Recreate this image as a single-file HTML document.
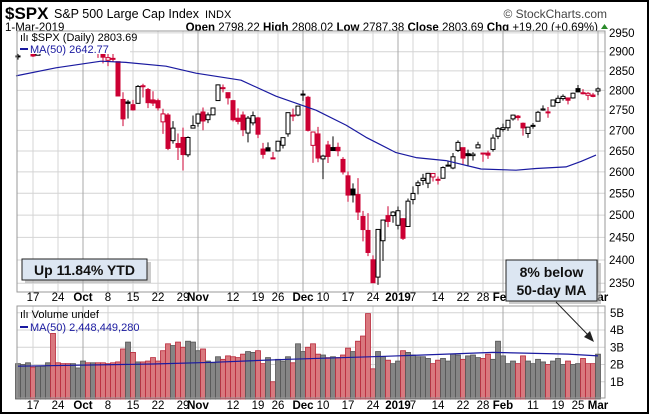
<!DOCTYPE html>
<html><head><meta charset="utf-8"><style>
html,body{margin:0;padding:0;background:#fff}
svg{display:block;font-family:"Liberation Sans",sans-serif}
</style></head><body>
<svg id="chart" width="650" height="415" viewBox="0 0 650 415" xmlns="http://www.w3.org/2000/svg">
<rect x="1" y="1" width="647" height="412" fill="#fff" stroke="#000" stroke-width="2"/>
<g>
<text x="5" y="19" font-size="17" font-weight="bold">$SPX</text>
<text x="54" y="18" font-size="12.5">S&amp;P 500 Large Cap Index</text>
<text x="205" y="18" font-size="11">INDX</text>
<text x="607" y="18" font-size="12" text-anchor="end" fill="#444">© StockCharts.com</text>
<text x="5" y="31" font-size="11.5">1-Mar-2019</text>
<text x="598" y="31" font-size="11.5" text-anchor="end"><tspan font-weight="bold">Open</tspan> 2798.22 <tspan font-weight="bold">High</tspan> 2808.02 <tspan font-weight="bold">Low</tspan> 2787.38 <tspan font-weight="bold">Close</tspan> 2803.69 <tspan font-weight="bold">Chg</tspan> +19.20 (+0.69%)</text>
<polygon points="601,29 608,29 604.5,24" fill="#2a8a2a"/>
</g>
<g id="priceGrid"></g>
<g id="priceMarks"></g>
<g id="volGrid"></g>
<g id="volMarks"></g>
<g id="labels"></g>
</svg>
<script>
// ---- data ----
const dates=["Sep12","Sep13","Sep14","Sep17","Sep18","Sep19","Sep20","Sep21","Sep24","Sep25","Sep26","Sep27","Sep28","Oct1","Oct2","Oct3","Oct4","Oct5","Oct8","Oct9","Oct10","Oct11","Oct12","Oct15","Oct16","Oct17","Oct18","Oct19","Oct22","Oct23","Oct24","Oct25","Oct26","Oct29","Oct30","Oct31","Nov1","Nov2","Nov5","Nov6","Nov7","Nov8","Nov9","Nov12","Nov13","Nov14","Nov15","Nov16","Nov19","Nov20","Nov21","Nov23","Nov26","Nov27","Nov28","Nov29","Nov30","Dec3","Dec4","Dec6","Dec7","Dec10","Dec11","Dec12","Dec13","Dec14","Dec17","Dec18","Dec19","Dec20","Dec21","Dec24","Dec26","Dec27","Dec28","Dec31","Jan2","Jan3","Jan4","Jan7","Jan8","Jan9","Jan10","Jan11","Jan14","Jan15","Jan16","Jan17","Jan18","Jan22","Jan23","Jan24","Jan25","Jan28","Jan29","Jan30","Jan31","Feb1","Feb4","Feb5","Feb6","Feb7","Feb8","Feb11","Feb12","Feb13","Feb14","Feb15","Feb19","Feb20","Feb21","Feb22","Feb25","Feb26","Feb27","Feb28","Mar1"];
const opens=[2888.3,2896.9,2906.4,2903.8,2890.7,2906.6,2919.7,2936.8,2921.8,2921.8,2916.9,2911.7,2910.0,2926.3,2923.8,2931.7,2919.4,2902.5,2877.5,2882.5,2873.9,2776.9,2770.5,2763.8,2767.1,2811.7,2802.0,2775.7,2773.9,2721.0,2737.9,2674.9,2667.9,2682.7,2640.7,2705.6,2717.6,2745.5,2726.4,2738.4,2774.1,2806.4,2794.1,2773.9,2730.1,2737.9,2693.5,2718.5,2730.7,2654.6,2657.7,2633.4,2650.0,2663.8,2691.5,2737.0,2737.8,2790.5,2782.4,2663.5,2691.3,2630.9,2664.4,2658.2,2658.7,2629.7,2590.8,2559.9,2547.1,2496.8,2465.4,2400.6,2363.1,2442.5,2498.8,2498.9,2477.0,2491.9,2474.3,2535.6,2568.1,2580.0,2573.5,2588.1,2580.3,2585.1,2614.8,2609.3,2651.3,2657.9,2643.5,2638.8,2657.4,2645.0,2644.9,2653.6,2685.5,2702.3,2706.5,2728.3,2735.1,2717.5,2692.4,2712.4,2722.6,2750.3,2743.5,2760.2,2769.3,2779.1,2780.7,2780.7,2804.4,2792.4,2787.5,2788.1,2798.2];
const highs=[2894.6,2906.8,2908.3,2904.7,2911.2,2912.4,2934.8,2940.9,2923.8,2923.9,2931.2,2927.2,2920.5,2937.1,2931.4,2939.9,2919.8,2909.6,2894.0,2894.8,2874.0,2795.1,2775.8,2775.9,2813.5,2816.9,2806.0,2797.8,2778.9,2753.6,2742.6,2722.7,2692.4,2706.9,2685.4,2736.7,2741.7,2756.6,2744.3,2756.8,2815.2,2814.8,2794.1,2775.9,2754.6,2746.8,2735.4,2746.8,2733.2,2669.4,2670.7,2647.6,2674.3,2682.5,2744.0,2753.8,2760.9,2800.2,2785.9,2696.2,2708.5,2641.0,2674.4,2685.4,2670.2,2635.1,2601.1,2573.0,2585.3,2509.6,2504.4,2410.3,2467.8,2489.1,2520.3,2509.2,2519.5,2493.1,2538.1,2566.2,2579.8,2595.3,2597.8,2596.3,2589.3,2613.1,2625.8,2645.1,2675.5,2657.9,2653.2,2647.2,2672.4,2645.0,2650.9,2690.4,2708.0,2716.7,2725.0,2739.0,2738.1,2719.3,2708.1,2718.1,2748.2,2761.9,2757.9,2775.7,2787.3,2789.9,2781.6,2794.2,2813.5,2803.1,2795.8,2793.7,2808.0];
const lows=[2879.2,2895.0,2895.8,2886.2,2890.4,2903.8,2919.7,2927.1,2912.6,2913.7,2903.3,2909.3,2907.5,2917.9,2919.4,2921.4,2883.9,2869.3,2862.1,2874.3,2784.9,2710.5,2729.4,2749.0,2766.9,2781.8,2755.2,2760.3,2749.2,2691.4,2651.9,2667.8,2628.2,2603.5,2635.3,2705.6,2708.9,2700.4,2717.9,2737.1,2774.1,2794.9,2764.2,2722.0,2714.9,2685.8,2670.8,2712.2,2681.1,2631.5,2649.8,2631.1,2650.0,2655.9,2684.4,2722.9,2735.0,2773.4,2697.2,2621.5,2623.1,2583.2,2621.3,2650.3,2637.3,2593.8,2530.5,2528.7,2489.0,2441.2,2408.6,2351.1,2346.6,2397.9,2472.9,2482.8,2467.5,2444.0,2474.3,2524.6,2547.6,2568.9,2562.0,2577.4,2570.4,2585.1,2612.7,2606.4,2647.6,2617.3,2612.9,2627.0,2657.3,2624.1,2631.1,2648.3,2678.7,2696.9,2698.8,2724.0,2724.2,2687.3,2681.8,2703.9,2722.6,2748.6,2731.2,2760.2,2767.3,2774.1,2764.6,2779.1,2795.0,2789.5,2775.1,2782.5,2787.4];
const closes=[2888.9,2904.2,2905.0,2888.8,2904.3,2908.0,2930.8,2929.7,2919.4,2915.6,2906.0,2914.0,2914.0,2924.6,2923.4,2925.5,2901.6,2885.6,2884.4,2880.3,2785.7,2728.4,2767.1,2750.8,2809.9,2809.2,2768.8,2767.8,2755.9,2740.7,2656.1,2705.6,2658.7,2641.3,2682.6,2711.7,2740.4,2723.1,2738.3,2755.5,2813.9,2806.8,2781.0,2726.2,2722.2,2701.6,2730.2,2736.3,2690.7,2641.9,2649.9,2632.6,2673.5,2682.2,2743.8,2737.8,2760.2,2790.4,2700.1,2696.0,2633.1,2637.7,2636.8,2651.1,2650.5,2600.0,2545.9,2546.2,2507.0,2467.4,2416.6,2351.1,2467.7,2488.8,2485.7,2506.9,2510.0,2447.9,2531.9,2549.7,2574.4,2585.0,2596.6,2596.3,2582.6,2610.3,2616.1,2636.0,2670.7,2632.9,2638.7,2642.3,2664.8,2643.9,2640.0,2681.1,2704.1,2706.5,2724.9,2737.7,2731.6,2706.1,2707.9,2709.8,2744.7,2753.0,2745.7,2775.6,2779.8,2784.7,2774.9,2792.7,2796.1,2793.9,2792.4,2784.5,2803.7];
const volumes=[2.05,2.0,2.1,1.85,1.9,1.9,2.1,3.8,2.1,2.05,2.05,2.05,1.8,2.2,2.1,2.1,2.1,2.1,2.05,2.1,2.15,2.9,3.3,2.7,2.15,2.15,2.2,2.4,2.2,2.8,3.2,3.1,3.3,3.0,3.35,3.3,2.8,2.9,2.2,2.1,2.45,2.3,2.5,2.45,2.4,2.6,2.75,2.7,2.8,2.05,2.4,1.0,2.3,2.2,2.45,2.1,3.2,2.75,3.0,3.2,2.6,2.55,2.4,2.45,2.4,2.55,2.95,2.75,3.35,3.65,4.95,1.75,2.75,2.45,2.25,2.05,2.2,2.8,2.7,2.55,2.45,2.45,2.35,2.05,2.25,2.35,2.2,2.6,2.55,2.3,2.5,2.55,2.4,2.35,2.6,2.3,3.35,2.5,2.05,2.2,2.05,2.5,2.2,2.05,2.3,2.15,2.0,2.2,2.35,2.0,2.2,2.0,2.05,2.35,2.05,2.05,2.6];
const maDays=[0,8,17,22,30,36,45,52,60,66,70,76,80,86,93,100,104,110,113,116];
const maValues=[2837,2858,2875,2872,2862,2844,2826,2785,2750,2713,2683,2646,2634,2627,2607,2604,2608,2612,2625,2640];
const volMaDays=[0,27,39,54,71,81,95,110,116];
const volMaValues=[1.9,2.03,2.13,2.3,2.45,2.55,2.7,2.6,2.5];
const priceTicks=[2350,2400,2450,2500,2550,2600,2650,2700,2750,2800,2850,2900,2950];
const volTicks=[1,2,3,4,5];
const xLabelDays=[3,8,13,18,23,28,33,36,43,48,52,57,61,66,71,76,79,84,89,93,97,103,108,112,116];
const xLabelText=["17","24","Oct","8","15","22","29","Nov","12","19","26","Dec","10","17","24","2019","7","14","22","28","Feb","11","19","25","Mar"];
const xLabelMajor=[0,0,1,0,0,0,0,1,0,0,0,1,0,0,0,1,0,0,0,0,1,0,0,0,1];

// ---- axes ----
const NS="http://www.w3.org/2000/svg";
const PL=17,PR=605,PT=31,PB=292,VT=306,VB=398;
function xDay(i){return 18+5*i;}
function yPrice(p){return 51.7+(Math.log(2900)-Math.log(p))*1101;}
function yVol(v){return 399-v*17.25;}
function mk(parent,tag,attrs){const e=document.createElementNS(NS,tag);for(const k in attrs)e.setAttribute(k,attrs[k]);parent.appendChild(e);return e;}
const pg=document.getElementById('priceGrid'),pm=document.getElementById('priceMarks'),vg=document.getElementById('volGrid'),vm=document.getElementById('volMarks'),lb=document.getElementById('labels');

let r=mk(pg,'rect',{x:PL,y:PT,width:PR-PL,height:PB-PT,fill:'#fff'});


r=mk(vg,'rect',{x:PL,y:VT,width:PR-PL,height:VB-VT,fill:'#fff'});



priceTicks.forEach(t=>{const y=yPrice(t);
 let l=mk(pg,'line',{x1:PL,x2:PR,y1:y,y2:y,stroke:'#d4d4d4','stroke-width':1});
 
 
 let tx=mk(lb,'text',{x:PR+4,y:y+4,'font-size':11.5});tx.textContent=t;
 
 
});
volTicks.forEach(t=>{const y=yVol(t);
 let l=mk(vg,'line',{x1:PL,x2:PR,y1:y,y2:y,stroke:'#d4d4d4','stroke-width':1});
 
 
 let tx=mk(lb,'text',{x:PR+5,y:y+4,'font-size':11.5});tx.textContent=t+'B';
 
 
});
xLabelDays.forEach((d,k)=>{const x=xDay(d);const c=xLabelMajor[k]?'#a8a8a8':'#d4d4d4';
 let l=mk(pg,'line',{x1:x,x2:x,y1:PT,y2:PB,stroke:c});
 
 
 l=mk(vg,'line',{x1:x,x2:x,y1:VT,y2:VB,stroke:c});
 
 
 [301,409].forEach(yy=>{let tx=mk(lb,'text',{x:x,y:yy,'font-size':11.5,'text-anchor':'middle','font-weight':xLabelMajor[k]?'bold':'normal'});tx.textContent=xLabelText[k];
  
  });
});

const RED='#cc0033';
closes.forEach((c,i)=>{const o=opens[i],x=xDay(i);const prev=i>0?closes[i-1]:c;const col=c<prev?RED:'#000';
 let w=mk(pm,'line',{x1:x,x2:x,y1:yPrice(highs[i]),y2:yPrice(lows[i]),stroke:col,'stroke-width':1});
 
 
 const yt=yPrice(Math.max(o,c)),yb=yPrice(Math.min(o,c));
 let b=mk(pm,'rect',{x:x-2,y:yt,width:4,height:Math.max(1,yb-yt),fill:c<o?col:'#fff',stroke:col,'stroke-width':1});
 
 
});
let d='';maDays.forEach((dd,k)=>{d+=(k?'L':'M')+(xDay(dd)-2)+','+yPrice(maValues[k]).toFixed(1);});
let ma=mk(pm,'path',{d:d,fill:'none',stroke:'#1a1aa0','stroke-width':1.2,'stroke-linejoin':'round'});



volumes.forEach((v,i)=>{const x=xDay(i);const prev=i>0?closes[i-1]:closes[i];const red=closes[i]<prev;
 let b=mk(vm,'rect',{x:x-2.5,y:yVol(v),width:5,height:yVol(0)-yVol(v),fill:red?'#d9787e':'#858585',stroke:red?'#b8283a':'#555','stroke-width':0.8});
 
 
});
d='';volMaDays.forEach((dd,k)=>{d+=(k?'L':'M')+xDay(dd)+','+yVol(volMaValues[k]).toFixed(1);});
let vma=mk(vm,'path',{d:d,fill:'none',stroke:'#1a1aa0','stroke-width':1.2});


</script>
<script>
(function(){
const NS="http://www.w3.org/2000/svg",s=document.getElementById('chart');
const html=`
<rect x="18" y="32" width="112" height="22" fill="#fff"/>
<text x="20" y="41" font-size="11">ılı $SPX (Daily) 2803.69</text>
<line x1="20" y1="49" x2="28" y2="49" stroke="#1a1aa0" stroke-width="2"/>
<text x="30" y="53" font-size="11" fill="#1a1aa0">MA(50) 2642.77</text>
<rect x="17" y="31" width="588" height="261" fill="none" stroke="#999"/>
<rect x="17" y="306" width="588" height="92" fill="none" stroke="#999"/>
<text x="20" y="318" font-size="11">ılı Volume undef</text>
<line x1="20" y1="327" x2="28" y2="327" stroke="#1a1aa0" stroke-width="2"/>
<text x="30" y="331" font-size="11" fill="#1a1aa0">MA(50) 2,448,449,280</text>
<rect x="25" y="262" width="126" height="21" fill="#aaa" opacity="0.6"/>
<rect x="22" y="259" width="125" height="21" fill="#dce6f2" stroke="#222"/>
<text x="84.5" y="275" font-size="14" font-weight="bold" text-anchor="middle" fill="#111">Up 11.84% YTD</text>
<rect x="509" y="263" width="92" height="41" fill="#aaa" opacity="0.6"/>
<rect x="506" y="260" width="91" height="41" fill="#dce6f2" stroke="#222"/>
<text x="551.5" y="277" font-size="14" font-weight="bold" text-anchor="middle" fill="#111">8% below</text>
<text x="551.5" y="295" font-size="14" font-weight="bold" text-anchor="middle" fill="#111">50-day MA</text>
<line x1="556" y1="302" x2="591" y2="338" stroke="#222" stroke-width="1"/>
<polygon points="594,342 584,337 590,331" fill="#222"/>`;
const g=document.createElementNS(NS,'g');g.innerHTML=html;s.appendChild(g);
})();
</script>
</body></html>
